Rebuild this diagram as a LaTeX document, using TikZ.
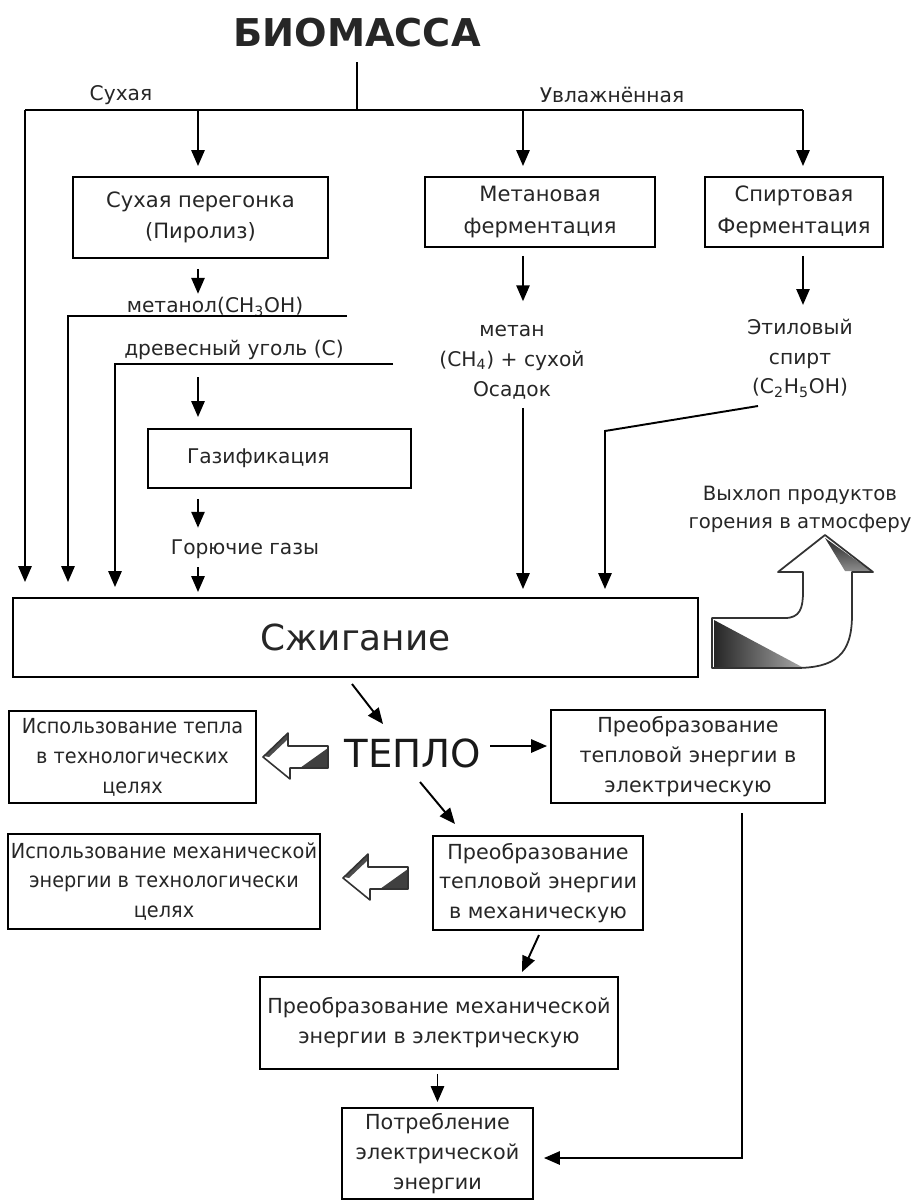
\documentclass[tikz,border=0pt]{standalone}
\usepackage{fontspec}
\setmainfont{DejaVu Sans}
\newfontfamily\narrowsans[FakeStretch=0.93]{DejaVu Sans}
\usetikzlibrary{arrows.meta}
\newcommand\pxl{0.02cm}
\tikzset{ln/.style={line width=1.1pt}}
\tikzset{arr/.style={line width=1.1pt,-{Triangle[length=9pt,width=7.5pt]}}}
\tikzset{box/.style={draw,line width=1.1pt,align=center,inner sep=0pt,
    text=black!85,font=\fontsize{12}{18}\selectfont}}
\tikzset{lowbox/.style={box,font=\fontsize{11.8}{17}\selectfont}}
\tikzset{lbl/.style={align=center,inner sep=2pt,text=black!85,
    font=\fontsize{11.5}{17}\selectfont}}
\tikzset{blockarrow/.pic={
    \fill[white] (0,0) -- (25,-24) -- (25,-11) -- (65,-11) -- (65,11)
        -- (27,11) -- (27,22) -- cycle;
    \fill[black!75] (37,11) -- (65,-9) -- (65,11) -- cycle;
    \fill[black!70] (1,-1) -- (25,-24) -- (25,-18) -- (6,0) -- cycle;
    \draw[black!80,line width=0.9pt,line join=round]
        (0,0) -- (25,-24) -- (25,-11) -- (65,-11) -- (65,11)
        -- (27,11) -- (27,22) -- cycle;
    }}

\begin{document}
\begin{tikzpicture}[x=0.02cm,y=-0.02cm]
\useasboundingbox (0,0) rectangle (917,1201);

% заголовок и ветви
\node[font=\fontsize{21.8}{24}\selectfont\bfseries,text=black!85] (title) at (357,33) {БИОМАССА};
\node[lbl] (dry) at (121,95) {Сухая};
\node[lbl] (wet) at (612,95) {Увлажнённая};

\coordinate (stem) at (357,62);
\coordinate (split) at (357,110);
\coordinate (lft) at (25,110);
\coordinate (rgt) at (803,110);
\coordinate (mid) at (523,110);
\coordinate (gas0) at (198,377);

% процессы
\node[box,minimum width=255*\pxl,minimum height=81*\pxl] (pyro) at (200.5,217.5)
    {Сухая перегонка\\(Пиролиз)};
\node[box,minimum width=230*\pxl,minimum height=70*\pxl] (metf) at (540,212)
    {Метановая\\ферментация};
\node[box,minimum width=178*\pxl,minimum height=70*\pxl] (spf) at (794,212)
    {Спиртовая\\Ферментация};

\node[lbl] (methanol) at (215,307) {метанол(CH\textsubscript{3}OH)};
\node[lbl] (charcoal) at (234,350) {древесный уголь (C)};
\node[box,font=\fontsize{11.5}{17}\selectfont,minimum width=263*\pxl,minimum height=59*\pxl,
    align=left,text width=185*\pxl,inner xsep=39*\pxl] (gasif) at (279.5,458.5) {Газификация};
\node[lbl] (gases) at (245,549) {Горючие газы};
\node[lbl] (methane) at (512,362) {метан\\(CH\textsubscript{4}) + сухой\\Осадок};
\node[lbl] (ethanol) at (800,358) {Этиловый\\спирт\\(C\textsubscript{2}H\textsubscript{5}OH)};

\node[box,minimum width=685*\pxl,minimum height=79*\pxl,
    font=\fontsize{20.4}{24}\selectfont] (burn) at (355.5,637.5) {Сжигание};
\node[lbl,font=\fontsize{11.2}{16}\selectfont] (exhaust) at (800,509)
    {Выхлоп продуктов\\горения в атмосферу};

% ветви от биомассы
\draw[ln] (stem) -- (split);
\draw[ln] (lft) -- (rgt);
\draw[arr,shorten >=0.2cm] (gas0 |- lft) -- (gas0 |- pyro.north);
\draw[arr,shorten >=0.2cm] (mid) -- (mid |- metf.north);
\draw[arr,shorten >=0.2cm] (rgt) -- (rgt |- spf.north);
\draw[arr,shorten >=0.3cm] (lft) -- (lft |- burn.north);

% пиролиз
\coordinate (meth1) at (347,316);
\coordinate (meth2) at (68,316);
\coordinate (coal1) at (393,364);
\coordinate (coal2) at (115,364);
\draw[arr,shorten <=0.2cm] (gas0 |- pyro.south) -- (gas0 |- methanol.north);
\draw[arr,shorten >=0.3cm] (meth1) -- (meth2) -- (meth2 |- burn.north);
\draw[arr,shorten >=0.2cm] (coal1) -- (coal2) -- (coal2 |- burn.north);
\draw[arr,shorten >=0.22cm] (gas0) -- (gas0 |- gasif.north);
\draw[arr,shorten <=0.2cm,shorten >=0.16cm] (gas0 |- gasif.south) -- (gas0 |- gases.north);
\draw[arr,shorten <=0.1cm,shorten >=0.1cm] (gas0 |- gases.south) -- (gas0 |- burn.north);

% ферментация
\coordinate (eth0) at (758,406);
\coordinate (eth1) at (605,431);
\draw[arr,shorten <=0.16cm,shorten >=0.4cm] (mid |- metf.south) -- (mid |- methane.north);
\draw[arr,shorten <=0.1cm,shorten >=0.16cm] (mid |- methane.south) -- (mid |- burn.north);
\draw[arr,shorten <=0.16cm,shorten >=0.2cm] (rgt |- spf.south) -- (rgt |- ethanol.north);
\draw[arr,shorten >=0.16cm] (eth0) -- (eth1) -- (eth1 |- burn.north);

% выхлоп
\fill[white] (712,618) -- (785,618) .. controls (800,618) and (803,608) .. (803,592)
    -- (803,572) -- (778,572) -- (825,535) -- (873,572) -- (852,572) -- (852,615)
    .. controls (852,655) and (835,668) .. (795,668) -- (712,668) -- cycle;
\begin{scope}
  \clip (714,620) -- (802,667) -- (714,667) -- cycle;
  \shade[left color=black!85,right color=black!35] (714,620) rectangle (802,667);
\end{scope}
\begin{scope}
  \clip (825,538) -- (871,571) -- (845,571) -- cycle;
  \shade[top color=black!85,bottom color=black!45] (825,538) rectangle (871,571);
\end{scope}
\draw[black!80,line width=1pt,line join=round]
    (712,618) -- (785,618) .. controls (800,618) and (803,608) .. (803,592)
    -- (803,572) -- (778,572) -- (825,535) -- (873,572) -- (852,572) -- (852,615)
    .. controls (852,655) and (835,668) .. (795,668) -- (712,668) -- cycle;

% тепло
\node[font=\fontsize{22}{26}\selectfont,text=black!90] (heat) at (413,753) {ТЕПЛО};
\node[lowbox,minimum width=247*\pxl,minimum height=92*\pxl] (useheat) at (132.5,757)
    {\narrowsans Использование тепла\\\narrowsans в технологических\\\narrowsans целях};
\node[lowbox,minimum width=274*\pxl,minimum height=93*\pxl] (thermel) at (688,756.5)
    {Преобразование\\тепловой энергии в\\электрическую};
\node[lowbox,minimum width=210*\pxl,minimum height=94*\pxl] (thermmech) at (538,883)
    {Преобразование\\тепловой энергии\\в механическую};
\node[lowbox,minimum width=312*\pxl,minimum height=95*\pxl] (usemech) at (164,881.5)
    {\narrowsans Использование механической\\\narrowsans энергии в технологически\\\narrowsans целях};
\node[lowbox,minimum width=358*\pxl,minimum height=92*\pxl] (mechel) at (439,1023)
    {Преобразование механической\\энергии в электрическую};
\node[lowbox,minimum width=191*\pxl,minimum height=91*\pxl] (consume) at (437.5,1153.5)
    {Потребление\\электрической\\энергии};

\pic at (263,757) {blockarrow};
\pic at (343,878) {blockarrow};

\coordinate (h0) at (352,684);
\coordinate (h1) at (383,724);
\coordinate (h2) at (490,746);
\coordinate (h3) at (420,782);
\coordinate (h4) at (455,824);
\coordinate (k0) at (539,935);
\coordinate (k1) at (522,972);
\coordinate (el0) at (742,813);
\coordinate (el1) at (742,1158);
\draw[arr] (h0) -- (h1);
\draw[arr,shorten >=0.06cm] (h2) -- (h2 -| thermel.west);
\draw[arr] (h3) -- (h4);
\draw[arr] (k0) -- (k1);
\draw[arr,shorten <=0.08cm,shorten >=0.1cm] (consume.north |- mechel.south) -- (consume.north);
\draw[arr,shorten >=0.2cm] (el0) -- (el1) -- (el1 -| consume.east);

\end{tikzpicture}
\end{document}
